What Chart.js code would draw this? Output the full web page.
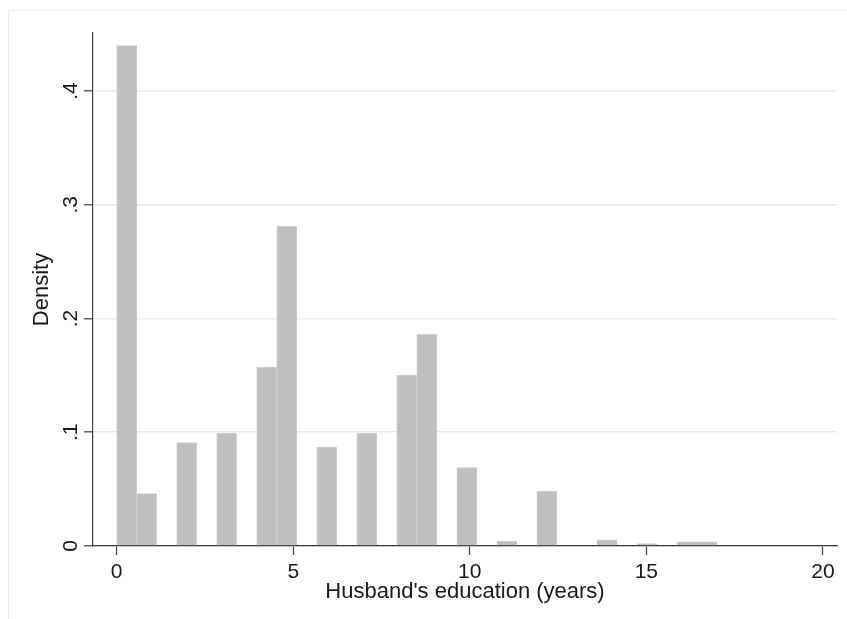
<!DOCTYPE html>
<html>
<head>
<meta charset="utf-8">
<script src="https://cdn.jsdelivr.net/npm/chart.js@4/dist/chart.umd.min.js"></script>
<style>
  html, body { margin: 0; padding: 0; background: #ffffff; }
  canvas { display: block; }
</style>
</head>
<body>
<canvas id="hist" width="847" height="619"></canvas>
<script>
// Histogram of husband's years of schooling: 30 equal bins spanning 0..17 years
const binMin = 0;
const binMax = 17;
const density = [
  0.440, 0.046, 0,     0.091, 0,     0.099, 0,     0.157, 0.281, 0,
  0.087, 0,     0.099, 0,     0.150, 0.186, 0,     0.069, 0,     0.004,
  0,     0.048, 0,     0,     0.0055, 0,    0.0022, 0,    0.0037, 0.0037
];
const xTicks = [0, 5, 10, 15, 20];
const xTickLabels = ['0', '5', '10', '15', '20'];
const yTicks = [0, 0.1, 0.2, 0.3, 0.4];
const yTickLabels = ['0', '.1', '.2', '.3', '.4'];
const xTitle = "Husband's education (years)";
const yTitle = 'Density';

const binWidth = (binMax - binMin) / density.length;
const points = density.map((v, i) => ({ x: binMin + (i + 0.5) * binWidth, y: v }));

const FONT = "'Liberation Sans', Arial, Helvetica, sans-serif";
const AXIS_COLOR = '#3c3c3c';
const TEXT_COLOR = '#1a1a1a';

// light frame around the whole graph region
const framePlugin = {
  id: 'frame',
  beforeDraw(chart) {
    const ctx = chart.ctx;
    ctx.save();
    ctx.strokeStyle = '#eeeeee';
    ctx.lineWidth = 1;
    ctx.strokeRect(8.5, 10.5, chart.width + 20, chart.height + 20);
    ctx.restore();
  }
};

// vertical-axis tick labels, rotated to read bottom-to-top
const yLabelPlugin = {
  id: 'yLabels',
  afterDraw(chart) {
    const ctx = chart.ctx;
    const y = chart.scales.y;
    ctx.save();
    ctx.fillStyle = TEXT_COLOR;
    ctx.font = '21px ' + FONT;
    ctx.textAlign = 'center';
    ctx.textBaseline = 'alphabetic';
    yTicks.forEach((v, i) => {
      ctx.save();
      ctx.translate(y.right - 16.5, y.getPixelForValue(v));
      ctx.rotate(-Math.PI / 2);
      ctx.fillText(yTickLabels[i], 0, 0);
      ctx.restore();
    });
    ctx.restore();
  }
};

new Chart(document.getElementById('hist'), {
  type: 'bar',
  data: {
    datasets: [{
      data: points,
      backgroundColor: 'rgb(191,191,191)',
      borderColor: 'rgb(206,206,206)',
      borderWidth: 1,
      barPercentage: 1,
      categoryPercentage: 1
    }]
  },
  options: {
    responsive: false,
    animation: false,
    devicePixelRatio: 1,
    layout: { padding: { left: 0, top: 33, right: 10, bottom: 0 } },
    plugins: {
      legend: { display: false },
      tooltip: { enabled: false }
    },
    scales: {
      x: {
        type: 'linear',
        offset: false,
        min: -0.671,
        max: 20.4,
        afterFit(scale) { scale.height = 73; },
        afterBuildTicks(scale) { scale.ticks = xTicks.map(v => ({ value: v })); },
        grid: {
          offset: false,
          drawOnChartArea: false,
          drawTicks: true,
          tickLength: 9,
          tickColor: AXIS_COLOR,
          tickWidth: 1.2
        },
        border: { display: true, color: AXIS_COLOR, width: 1.2 },
        ticks: {
          padding: 5,
          color: TEXT_COLOR,
          font: { family: FONT, size: 21 },
          maxRotation: 0,
          callback(value) {
            const i = xTicks.indexOf(value);
            return i >= 0 ? xTickLabels[i] : '';
          }
        },
        title: {
          display: true,
          text: xTitle,
          color: TEXT_COLOR,
          font: { family: FONT, size: 22 },
          padding: { top: 0, bottom: 14 }
        }
      },
      y: {
        min: 0,
        max: 0.451,
        afterFit(scale) { scale.width = 93; },
        afterBuildTicks(scale) { scale.ticks = yTicks.map(v => ({ value: v })); },
        grid: {
          color: '#e9e9e9',
          lineWidth: 1.6,
          drawTicks: true,
          tickLength: 9,
          tickColor: AXIS_COLOR,
          tickWidth: 1.2
        },
        border: { display: true, color: AXIS_COLOR, width: 1.2 },
        ticks: { display: false },
        title: {
          display: true,
          text: yTitle,
          color: TEXT_COLOR,
          font: { family: FONT, size: 22 },
          padding: { top: 29, bottom: 0 }
        }
      }
    }
  },
  plugins: [framePlugin, yLabelPlugin]
});
</script>
</body>
</html>
